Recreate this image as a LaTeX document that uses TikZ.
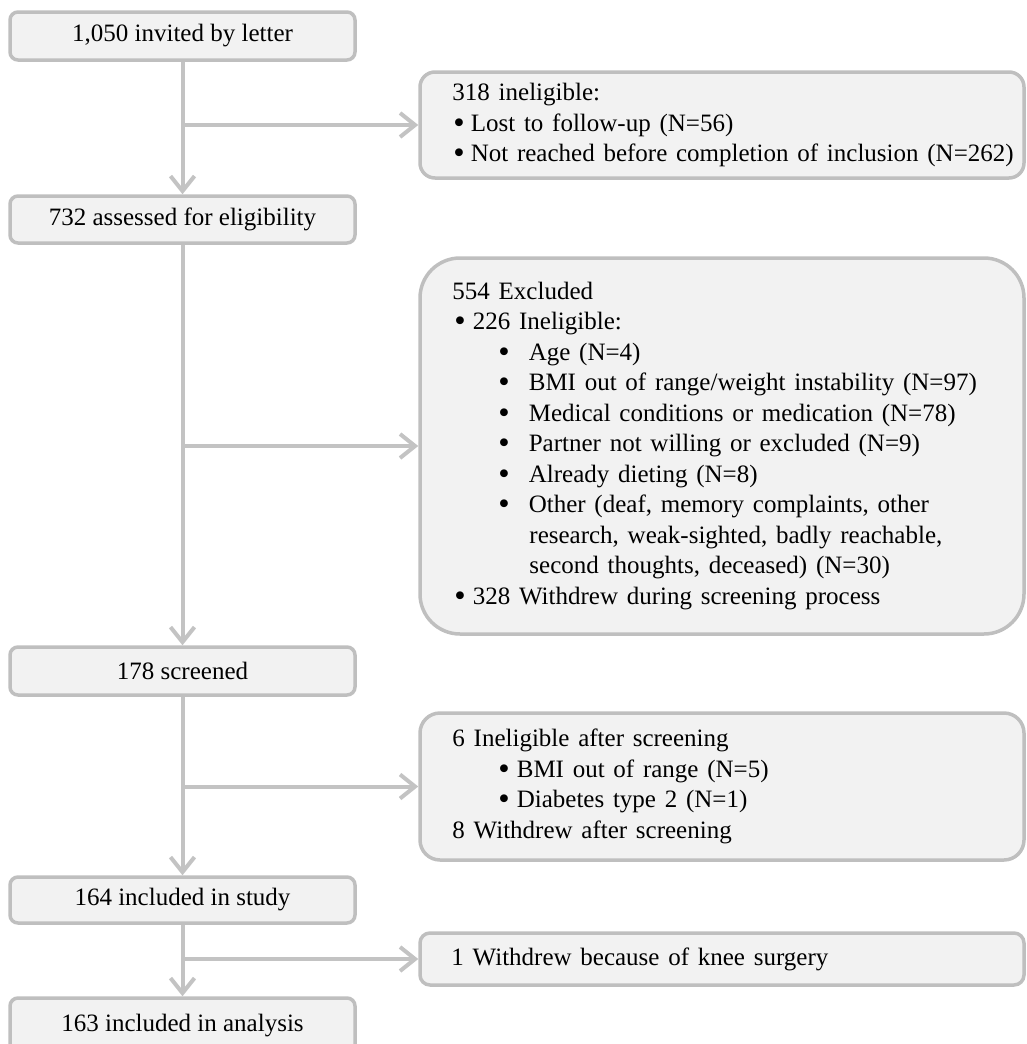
\documentclass[tikz,border=0pt]{standalone}
\usepackage{fontspec}
\setmainfont{Liberation Serif}
\usetikzlibrary{arrows.meta}
\definecolor{boxfill}{HTML}{F2F2F2}
\definecolor{boxline}{HTML}{BFBFBF}
\definecolor{arrline}{HTML}{C3C3C3}
\newcommand\bigbul{\raisebox{-2pt}{\scalebox{1.3}{\textbullet}}}
\newcommand\widespace{\spaceskip=8.75pt plus 2pt minus 1pt\relax}
\begin{document}
\begin{tikzpicture}[x=1pt,y=-1pt,
  lbox/.style={draw=boxline, fill=boxfill, line width=3.5pt, rounded corners=8pt,
    minimum width=345pt, minimum height=48pt, inner sep=0pt,
    font=\fontsize{25}{30}\selectfont},
  rbox/.style={draw=boxline, fill=boxfill, line width=3.5pt, minimum width=604pt, inner sep=0pt},
  rtext/.style={anchor=west, align=left, inner sep=0pt,
    font=\fontsize{25}{30.5}\selectfont, execute at begin node=\widespace},
  arr/.style={draw=arrline, line width=4pt, -{Straight Barb[length=15pt,width=24pt]}}]
\useasboundingbox (0,0) rectangle (1026,1044);

% left column
\node[lbox] (inv) at (182.5,36) {1,050 invited by letter};
\node[lbox, minimum height=47pt] (ass) at (182.5,219.5) {732 assessed for eligibility};
\node[lbox] (scr) at (182.5,671) {178 screened};
\node[lbox, minimum height=46pt] (inc) at (182.5,900) {164 included in study};
\node[lbox, minimum height=64pt] (ana) at (182.5,1030) {163 included in analysis\rule[-14pt]{0pt}{0pt}};

% right column
\node[rbox, minimum height=106pt, rounded corners=15pt] (ex1) at (722,125) {};
\node[rtext] (ex1t) at ([xshift=34pt]ex1.west) {318 ineligible:\\
\hspace*{1pt}\bigbul\hspace{6pt}Lost to follow-up (N=56)\\
\hspace*{1pt}\bigbul\hspace{6pt}Not reached before completion of inclusion (N=262)};

\node[rbox, minimum height=376pt, rounded corners=40pt] (ex2) at (722,446) {};
\node[rtext] (ex2t) at ([xshift=34pt]ex2.west) {554 Excluded\\
\hspace*{2pt}\bigbul\hspace{7pt}226 Ineligible:\\
\hspace*{46pt}\bigbul\hspace{19pt}Age (N=4)\\
\hspace*{46pt}\bigbul\hspace{19pt}BMI out of range/weight instability (N=97)\\
\hspace*{46pt}\bigbul\hspace{19pt}Medical conditions or medication (N=78)\\
\hspace*{46pt}\bigbul\hspace{19pt}Partner not willing or excluded (N=9)\\
\hspace*{46pt}\bigbul\hspace{19pt}Already dieting (N=8)\\
\hspace*{46pt}\bigbul\hspace{19pt}Other (deaf, memory complaints, other\\
\hspace*{77pt}research, weak-sighted, badly reachable,\\
\hspace*{77pt}second thoughts, deceased) (N=30)\\
\hspace*{2pt}\bigbul\hspace{7pt}328 Withdrew during screening process};

\node[rbox, minimum height=147pt, rounded corners=20pt] (ex3) at (722,786.5) {};
\node[rtext] (ex3t) at ([xshift=34pt]ex3.west) {6 Ineligible after screening\\
\hspace*{46pt}\bigbul\hspace{7pt}BMI out of range (N=5)\\
\hspace*{46pt}\bigbul\hspace{7pt}Diabetes type 2 (N=1)\\
8 Withdrew after screening};

\node[rbox, minimum height=52pt, rounded corners=10pt] (ex4) at (722,959) {};
\node[rtext] (ex4t) at ([xshift=33pt]ex4.west) {1 Withdrew because of knee surgery};

% connectors
\draw[arr] (inv) -- (ass);
\draw[arr] (inv.south |- ex1.west) -- (ex1.west);
\draw[arr] (ass) -- (scr);
\draw[arr] (ass.south |- ex2.west) -- (ex2.west);
\draw[arr] (scr) -- (inc);
\draw[arr] (scr.south |- ex3.west) -- (ex3.west);
\draw[arr] (inc) -- (ana);
\draw[arr] (inc.south |- ex4.west) -- (ex4.west);
\end{tikzpicture}
\end{document}
